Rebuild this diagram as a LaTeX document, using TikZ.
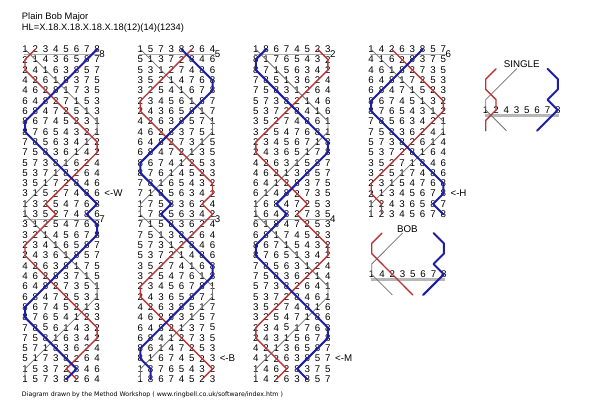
\documentclass[tikz,border=0pt]{standalone}
\usepackage{fontspec}
\usepackage{graphicx}
\setmainfont{Liberation Sans}
\newfontfamily\mwfootfont{DejaVu Sans}
\definecolor{mwblue}{RGB}{30,30,165}
\definecolor{mwred}{RGB}{185,55,55}
\definecolor{mwgrey}{RGB}{115,115,115}
\definecolor{mwlead}{RGB}{170,170,170}
\def\mwdx{10.3}
\def\mwdy{10.31}
\def\mwyt{49.3}
% positions (rows 1..16 of a lead) of the bell starting in place q
\expandafter\def\csname mwP1\endcsname{2,3,4,5,6,7,8,8,7,6,5,4,3,2,1,1}
\expandafter\def\csname mwP2\endcsname{1,1,2,3,4,5,6,7,8,8,7,6,5,4,3,4}
\expandafter\def\csname mwP3\endcsname{4,5,6,7,8,8,7,6,5,4,3,2,1,1,2,2}
\expandafter\def\csname mwP4\endcsname{3,2,1,1,2,3,4,5,6,7,8,8,7,6,5,6}
\expandafter\def\csname mwP5\endcsname{6,7,8,8,7,6,5,4,3,2,1,1,2,3,4,3}
\expandafter\def\csname mwP6\endcsname{5,4,3,2,1,1,2,3,4,5,6,7,8,8,7,8}
\expandafter\def\csname mwP7\endcsname{8,8,7,6,5,4,3,2,1,1,2,3,4,5,6,5}
\expandafter\def\csname mwP8\endcsname{7,6,5,4,3,2,1,1,2,3,4,5,6,7,8,7}
\tikzset{
  dig/.style={font=\fontsize{7.3}{8}\selectfont, inner sep=0pt},
  txt/.style={font=\fontsize{7.3}{8}\selectfont, inner sep=0pt},
  ttl/.style={font=\fontsize{7.6}{9}\selectfont, inner sep=0pt},
  bl/.style={draw=mwblue, line width=1.5pt, line cap=round, line join=round},
  rd/.style={draw=mwred, line width=1.05pt, line cap=round, line join=round},
  tr/.style={draw=mwgrey, line width=0.6pt, line cap=round, line join=round},
  ld/.style={draw=mwlead, line width=0.6pt},
  ldthick/.style={draw=mwlead!85, line width=2.2pt},
}
% #1 x0, #2 first row index, #3 lead head, #4 print last row (1) or not (0)
\newcommand\mwLead[4]{%
  \foreach \bell [count=\q] in {#3} {%
    \node[dig] at ({#1+(\q-1)*\mwdx},{\mwyt+(#2)*\mwdy}) {\bell};
    \expandafter\let\expandafter\mwlist\csname mwP\q\endcsname
    \foreach \pos [count=\k] in \mwlist {%
      \ifnum\k<16
        \node[dig] at ({#1+(\pos-1)*\mwdx},{\mwyt+(#2+\k)*\mwdy}) {\bell};
      \else\ifnum#4=1
        \node[dig] at ({#1+(\pos-1)*\mwdx},{\mwyt+(#2+\k)*\mwdy}) {\bell};
      \fi\fi
    }
  }
}
% #1 style, #2 x0, #3 first row index, #4 starting place
\newcommand\mwLine[4]{%
  \expandafter\let\expandafter\mwlist\csname mwP#4\endcsname
  \draw[#1] ({#2+(#4-1)*\mwdx},{\mwyt+(#3)*\mwdy})
    \foreach \pos [count=\k] in \mwlist { -- ({#2+(\pos-1)*\mwdx},{\mwyt+(#3+\k)*\mwdy}) };
}
\newcommand\mwLeadLine[2]{%
  \draw[ld] ({#1-1.5},{\mwyt+(#2+0.5)*\mwdy}) -- ({#1+7*\mwdx+3},{\mwyt+(#2+0.5)*\mwdy});
}
\newcommand\mwPlace[3]{%
  \node[txt] at ({#1+7*\mwdx+5},{\mwyt+(#2)*\mwdy+4.5}) {#3};
}
\newcommand\mwCallPos[3]{%
  \node[txt,anchor=west] at ({#1+7*\mwdx+7},{\mwyt+(#2)*\mwdy}) {<-#3};
}
% call diagram line: #1 style, #2 x0, #3 y of row 0, #4 first place (row -4), #5 rest
\newcommand\mwCallLine[5]{%
  \draw[#1] ({#2+(#4-1)*\mwdx},{#3-4*\mwdy})
    \foreach \pos [count=\k from -3] in {#5} { -- ({#2+(\pos-1)*\mwdx},{#3+\k*\mwdy}) };
}
\begin{document}
\begin{tikzpicture}[x=0.75pt,y=-0.75pt]
\fill[white] (0,0) rectangle (600,414);
\useasboundingbox (0,0) rectangle (600,414);
% titles
\node[anchor=base west,inner sep=0pt] (title) at (21.7,19.5)
  {\resizebox{49.7pt}{!}{\fontsize{7.6}{9}\selectfont Plain Bob Major}};
\node[anchor=base west,inner sep=0pt] (hl) at (21.7,31)
  {\resizebox{121.5pt}{!}{\fontsize{7.6}{9}\selectfont HL=X.18.X.18.X.18.X.18(12)(14)(1234)}};
\node[anchor=base west,inner sep=0pt] (foot) at (21.7,396)
  {\resizebox{195.75pt}{!}{\mwfootfont Diagram drawn by the Method Workshop ( www.ringbell.co.uk/software/index.htm )}};
% digits
\mwLead{25}{0}{1,2,3,4,5,6,7,8}{0}
\mwLead{25}{16}{1,3,5,2,7,4,8,6}{1}
\mwLead{140.4}{0}{1,5,7,3,8,2,6,4}{0}
\mwLead{140.4}{16}{1,7,8,5,6,3,4,2}{1}
\mwLead{255.8}{0}{1,8,6,7,4,5,2,3}{0}
\mwLead{255.8}{16}{1,6,4,8,2,7,3,5}{1}
\mwLead{371.2}{0}{1,4,2,6,3,8,5,7}{1}
% lead lines
\mwLeadLine{25}{0}\mwLeadLine{25}{16}
\mwLeadLine{140.4}{0}\mwLeadLine{140.4}{16}
\mwLeadLine{255.8}{0}\mwLeadLine{255.8}{16}
\mwLeadLine{371.2}{0}
% treble
\mwLine{tr}{25}{0}{1}\mwLine{tr}{25}{16}{1}
\mwLine{tr}{140.4}{0}{1}\mwLine{tr}{140.4}{16}{1}
\mwLine{tr}{255.8}{0}{1}\mwLine{tr}{255.8}{16}{1}
\mwLine{tr}{371.2}{0}{1}
% bell 2
\mwLine{rd}{25}{0}{2}\mwLine{rd}{25}{16}{4}
\mwLine{rd}{140.4}{0}{6}\mwLine{rd}{140.4}{16}{8}
\mwLine{rd}{255.8}{0}{7}\mwLine{rd}{255.8}{16}{5}
\mwLine{rd}{371.2}{0}{3}
% bell 8
\mwLine{bl}{25}{0}{8}\mwLine{bl}{25}{16}{7}
\mwLine{bl}{140.4}{0}{5}\mwLine{bl}{140.4}{16}{3}
\mwLine{bl}{255.8}{0}{2}\mwLine{bl}{255.8}{16}{4}
\mwLine{bl}{371.2}{0}{6}
% place bells
\mwPlace{25}{0}{8}\mwPlace{25}{16}{7}
\mwPlace{140.4}{0}{5}\mwPlace{140.4}{16}{3}
\mwPlace{255.8}{0}{2}\mwPlace{255.8}{16}{4}
\mwPlace{371.2}{0}{6}
% calling positions
\mwCallPos{25}{14}{W}
\mwCallPos{140.4}{30}{B}
\mwCallPos{255.8}{30}{M}
\mwCallPos{371.2}{14}{H}
% SINGLE
\foreach \d [count=\p] in {1,2,4,3,5,6,7,8}
  \node[dig] at ({485.7+(\p-1)*\mwdx},110) {\d};
\draw[ldthick] (484.7,115.5) -- (559,115.5);
\mwCallLine{tr}{485.7}{110}{4}{3,2,1,1,2,3}
\mwCallLine{rd}{485.7}{110}{2}{1,1,2,2,1,1}
\mwCallLine{bl}{485.7}{110}{7}{8,8,7,8,7,6}
\node[txt] (single) at (521.7,64) {SINGLE};
% BOB
\foreach \d [count=\p] in {1,4,2,3,5,6,7,8}
  \node[dig] at ({371.7+(\p-1)*\mwdx},274.3) {\d};
\draw[ldthick] (370.7,279.8) -- (445,279.8);
\mwCallLine{tr}{371.7}{274.3}{4}{3,2,1,1,2,3}
\mwCallLine{rd}{371.7}{274.3}{2}{1,1,2,3,4,5}
\mwCallLine{bl}{371.7}{274.3}{7}{8,8,7,8,7,6}
\node[txt] (bob) at (407.3,229.5) {BOB};
\end{tikzpicture}
\end{document}
